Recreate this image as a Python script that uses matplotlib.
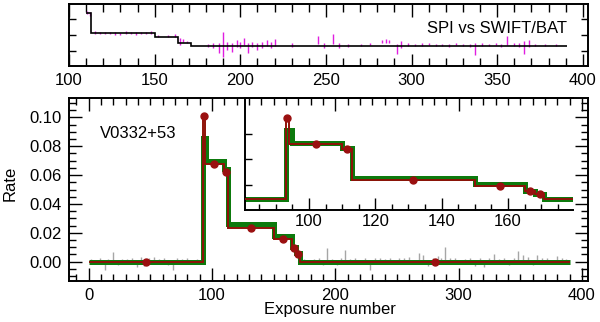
import numpy as np
import matplotlib
matplotlib.use("Agg")
import matplotlib.pyplot as plt
from matplotlib.ticker import MultipleLocator, NullFormatter

plt.rcParams['font.family'] = ['Liberation Sans', 'DejaVu Sans']
plt.rcParams['font.size'] = 12

# ---- top panel: SPI / BAT ratio ----
ratio_edges = [110, 113, 150, 163.5, 171.5, 391]
ratio_levels = [2.19, 1.55, 1.45, 1.25, 1.16]

mag_x = [110.5, 112, 115, 118, 121, 124, 127, 130, 133, 136, 139, 142, 145, 148,
         152, 158, 162, 165, 166.5, 169,
         181.4, 184.3, 187.3, 189.8, 192.2, 195.1, 198, 200, 201.9, 204.3, 206.9,
         209.8, 212.7, 215.7, 218, 220, 230.4,
         245.1, 249, 253.9, 257.8, 262.7, 270.6, 276, 283, 285, 286.7, 291.2, 294,
         298, 302, 306, 310, 314, 318, 322, 326, 330, 334, 337.3, 341, 345, 349,
         352, 355.9, 360, 363, 365.7, 368.6, 372, 378, 384.3]
mag_y = [2.22, 2.18, 1.58, 1.57, 1.56, 1.57, 1.55, 1.54, 1.58, 1.56, 1.54, 1.57, 1.55, 1.58,
         1.46, 1.47, 1.49, 1.30, 1.33, 1.27,
         1.17, 1.17, 1.08, 1.20, 1.15, 1.11, 1.23, 1.18, 1.29, 1.08, 1.20,
         1.13, 1.18, 1.24, 1.18, 1.26, 1.18,
         1.34, 1.18, 1.36, 1.17, 1.17, 1.18, 1.20, 1.29, 1.31, 1.29, 1.06, 1.19,
         1.21, 1.18, 1.19, 1.20, 1.18, 1.19, 1.17, 1.20, 1.18, 1.16, 1.06, 1.19, 1.18, 1.20,
         1.17, 1.33, 1.19, 1.18, 1.10, 1.23, 1.18, 1.19, 1.18]
mag_err = [0.06, 0.07, 0.04, 0.03, 0.04, 0.03, 0.04, 0.03, 0.05, 0.03, 0.04, 0.04, 0.03, 0.04,
           0.03, 0.04, 0.05, 0.12, 0.05, 0.04,
           0.05, 0.09, 0.16, 0.40, 0.13, 0.14, 0.10, 0.10, 0.10, 0.16, 0.08,
           0.10, 0.10, 0.10, 0.10, 0.10, 0.05,
           0.13, 0.08, 0.16, 0.07, 0.04, 0.04, 0.03, 0.05, 0.05, 0.05, 0.16, 0.12,
           0.05, 0.04, 0.04, 0.03, 0.04, 0.03, 0.04, 0.03, 0.04, 0.05, 0.20, 0.04, 0.04, 0.03,
           0.05, 0.15, 0.04, 0.05, 0.20, 0.10, 0.04, 0.03, 0.03]

# ---- main panel: light curve ----
green_edges = [0, 93, 95, 110, 113, 150, 165, 168, 171, 390]
green_levels = [0.0, 0.086, 0.0695, 0.064, 0.026, 0.018, 0.010, 0.006, 0.0]

red_edges = [0, 93, 94, 110, 113, 150, 165, 168, 171, 390]
red_levels = [0.0, 0.101, 0.068, 0.062, 0.023, 0.016, 0.0098, 0.0056, 0.0]

grey_x = [2, 6, 9, 13, 16, 20, 24, 27, 31, 35, 39, 42, 45, 49, 53, 57, 61, 64, 68, 72,
          76, 80, 84, 88,
          175, 179, 183, 187, 190, 193, 197, 201, 205, 208, 212, 216, 220, 224, 228,
          232, 236, 240, 244, 248, 252, 256, 260, 264, 268, 271, 275, 279, 283, 286,
          289, 293, 297, 301, 305, 309, 313, 317, 321, 325, 329, 333, 337, 341, 345,
          348, 352, 356, 360, 364, 368, 372, 376, 380, 384, 387]
grey_y = [0.0005, -0.0003, 0.0008, -0.0025, 0.0004, 0.0035, -0.0006, 0.0007, 0.0003,
          0.0010, -0.0015, 0.0012, -0.0008, 0.0009, 0.0015, 0.0004, 0.0012, -0.0007,
          -0.0028, 0.0011, 0.0006, 0.0009, -0.0004, 0.0007,
          0.0006, -0.0004, 0.0008, 0.0010, -0.0006, 0.0048, 0.0006, -0.0008, 0.0009,
          0.0042, 0.0005, 0.0011, -0.0005, 0.0007, -0.0030, 0.0008, 0.0012, 0.0004,
          0.0009, -0.0006, 0.0007, 0.0010, 0.0013, -0.0004, 0.0030, 0.0025, -0.0012,
          0.0009, 0.0022, 0.0002, 0.0055, 0.0010, 0.0012, -0.0005, 0.0008, 0.0011,
          -0.0014, 0.0012, -0.0016, 0.0009, 0.0026, 0.0005, 0.0010, -0.0008, 0.0012,
          0.0040, 0.0022, 0.0016, -0.0010, 0.0025, 0.0008, 0.0014, -0.0005, 0.0018,
          0.0011, 0.0006]
grey_err = [0.0012, 0.0015, 0.0014, 0.0030, 0.0013, 0.0035, 0.0014, 0.0012, 0.0016,
            0.0014, 0.0020, 0.0020, 0.0022, 0.0015, 0.0016, 0.0013, 0.0015, 0.0016,
            0.0028, 0.0015, 0.0012, 0.0014, 0.0012, 0.0013,
            0.0014, 0.0012, 0.0013, 0.0015, 0.0014, 0.0045, 0.0013, 0.0015, 0.0014,
            0.0036, 0.0013, 0.0013, 0.0012, 0.0015, 0.0030, 0.0014, 0.0013, 0.0012,
            0.0014, 0.0013, 0.0015, 0.0014, 0.0016, 0.0012, 0.0030, 0.0022, 0.0018,
            0.0016, 0.0020, 0.0020, 0.0050, 0.0015, 0.0013, 0.0014, 0.0013, 0.0012,
            0.0018, 0.0015, 0.0020, 0.0013, 0.0024, 0.0012, 0.0014, 0.0015, 0.0013,
            0.0035, 0.0024, 0.0018, 0.0016, 0.0022, 0.0015, 0.0014, 0.0013, 0.0018,
            0.0014, 0.0013]

inset_ticks = [100, 120, 140, 160]

# block midpoints carry the red dots
red_mid = [(a + b) / 2 for a, b in zip(red_edges[:-1], red_edges[1:])]

GREEN = '#0d7a0d'
RED = '#8e1208'
DOT = '#9a1010'


def style_axis(a, major, minor):
    a.tick_params(which='both', direction='in', width=1.0, labelsize=12)
    a.tick_params(which='major', length=major)
    a.tick_params(which='minor', length=minor)
    for s in a.spines.values():
        s.set_linewidth(1.4)


def draw_curve(a):
    a.stairs(green_levels, green_edges, color=GREEN, lw=3.6, baseline=None, zorder=2)
    a.stairs(red_levels, red_edges, color=RED, lw=1.4, baseline=None, zorder=3)
    a.plot(red_mid, red_levels, 'o', color=DOT, ms=5, zorder=4)


fig = plt.figure(figsize=(6, 3.22), dpi=100)

# top panel
ax_top = fig.add_axes([0.115, 0.796, 0.865, 0.1916])
ax_top.errorbar(mag_x, mag_y, yerr=mag_err, fmt='none', ecolor='#e01ee0',
                elinewidth=1.0, capsize=0, zorder=2)
ax_top.stairs(ratio_levels, ratio_edges, color='black', lw=1.2, baseline=None, zorder=3)
ax_top.set_xlim(100, 403)
ax_top.set_ylim(0.52, 2.49)
ax_top.xaxis.set_major_locator(MultipleLocator(50))
ax_top.xaxis.set_minor_locator(MultipleLocator(10))
ax_top.set_yticks([1.0, 1.5, 2.0])
ax_top.yaxis.set_major_formatter(NullFormatter())
style_axis(ax_top, 9, 5.5)
ax_top.tick_params(axis='both', top=True, right=True, which='both')
ax_top.tick_params(axis='y', which='major', length=5)
ax_top.tick_params(axis='x', pad=5)
ax_top.text(0.9595, 0.53, 'SPI vs SWIFT/BAT', transform=ax_top.transAxes,
            ha='right', va='baseline', fontsize=12)

# main panel
ax = fig.add_axes([0.115, 0.1273, 0.865, 0.5674])
ax.errorbar(grey_x, grey_y, yerr=grey_err, fmt='none', ecolor='#a6a6a6',
            elinewidth=1.0, capsize=0, zorder=1)
draw_curve(ax)
ax.set_xlim(-16, 405)
ax.set_ylim(-0.0134, 0.1132)
ax.xaxis.set_major_locator(MultipleLocator(100))
ax.xaxis.set_minor_locator(MultipleLocator(10))
ax.yaxis.set_major_locator(MultipleLocator(0.02))
ax.yaxis.set_minor_locator(MultipleLocator(0.005))
ax.yaxis.set_major_formatter(plt.FormatStrFormatter('%.2f'))
style_axis(ax, 9.5, 5)
ax.tick_params(axis='both', top=True, right=True, which='both', pad=5)
ax.text(0.0597, 0.783, 'V0332+53', transform=ax.transAxes, ha='left',
        va='baseline', fontsize=12)
fig.text(0.017, 0.43, 'Rate', rotation=90, ha='center', va='center', fontsize=12)
fig.text(0.55, 0.025, 'Exposure number', ha='center', va='baseline', fontsize=12)

# inset zoom on the outburst
axin = fig.add_axes([0.4083, 0.3478, 0.5467, 0.3469])
axin.patch.set_alpha(0)
draw_curve(axin)
axin.set_xlim(80.7, 179.6)
axin.set_ylim(-0.0144, 0.1257)
axin.set_xticks(inset_ticks)
axin.xaxis.set_minor_locator(MultipleLocator(5))
axin.set_yticks([0.017, 0.049, 0.081])
axin.yaxis.set_major_formatter(NullFormatter())
style_axis(axin, 9, 4.5)
axin.spines['right'].set_visible(False)
axin.tick_params(axis='y', which='major', length=5)
axin.tick_params(axis='both', top=False, right=False, which='both')
axin.tick_params(axis='x', pad=3)

fig.savefig('out.png', dpi=100)
